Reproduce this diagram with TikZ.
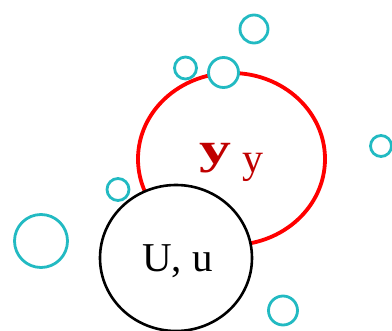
\documentclass[tikz,border=0pt]{standalone}
\usepackage{fontspec}
\setmainfont{Liberation Serif}
\usetikzlibrary{shapes.geometric}
\definecolor{cyanring}{RGB}{34,186,194}
\definecolor{darkred}{RGB}{192,0,0}
\tikzset{
  ring/.style={circle,draw=cyanring,fill=white,line width=2.8pt,inner sep=0pt,minimum size=#1},
  redset/.style={ellipse,draw={rgb,255:red,255;green,0;blue,0},line width=3.8pt,inner sep=0pt,minimum width=187pt,minimum height=172pt},
  blackset/.style={ellipse,draw=black,fill=white,line width=2.6pt,inner sep=0pt,minimum width=152pt,minimum height=146pt},
  lbl/.style={inner sep=0pt,anchor=base}
}
\begin{document}
\begin{tikzpicture}[x=1pt,y=-1pt]
\useasboundingbox (0,0) rectangle (392,331);
\clip (0,0) rectangle (392,331);
\node[redset] (Y) at (231.5,159) {};
\node[ring=28pt] (c1) at (254,29) {};
\node[ring=22pt] (c2) at (185.5,68) {};
\node[ring=30pt] (c3) at (223.5,72.5) {};
\node[ring=21pt] (c4) at (381,146) {};
\node[ring=22pt] (c5) at (118,189.5) {};
\node[ring=53pt] (c6) at (41,241) {};
\node[ring=29pt] (c7) at (283,310.5) {};
\node[blackset] (U) at (176,258) {};
\node[lbl,text=darkred] (y1) at (215.5,164) {\fontsize{44}{44}\selectfont\scalebox{1.45}[1]{\bfseries y}};
\node[lbl,text=darkred] (y2) at (252.5,173) {\fontsize{42}{42}\selectfont y};
\node[lbl] (ul) at (177.5,272) {\fontsize{41}{41}\selectfont U, u};
\end{tikzpicture}
\end{document}
